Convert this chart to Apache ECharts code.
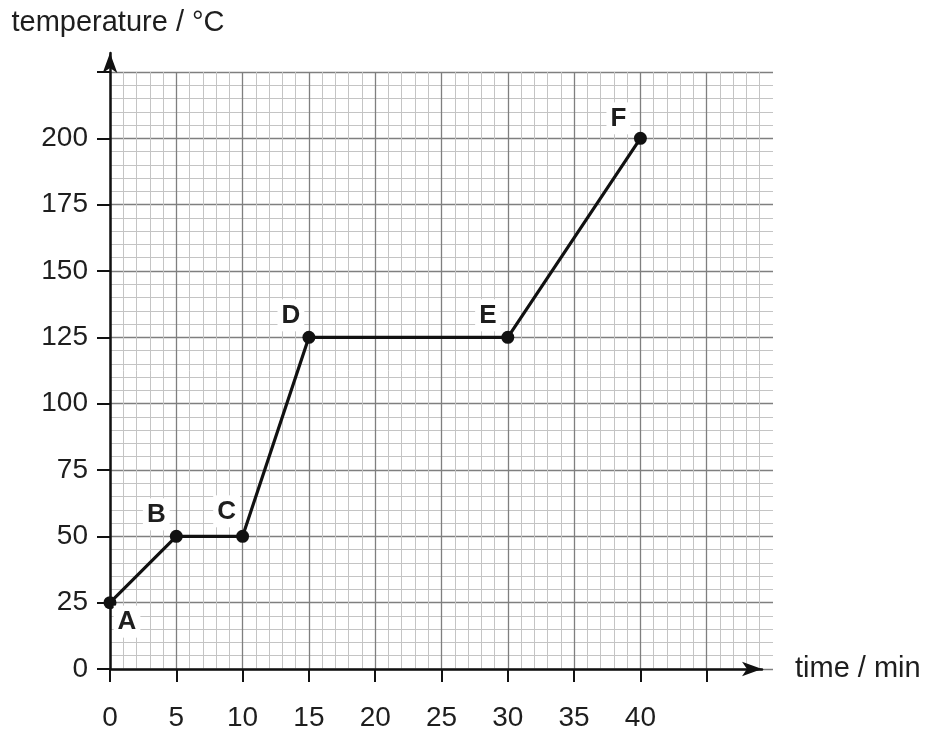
<!DOCTYPE html>
<html>
<head>
<meta charset="utf-8">
<script src="https://cdn.jsdelivr.net/npm/echarts@6.0.0/dist/echarts.min.js"></script>
<style>
  html, body { margin: 0; padding: 0; background: #fff; }
  #chart { width: 930px; height: 734px; }
</style>
</head>
<body>
<div id="chart"></div>
<script>
// heating curve: points A..F
const POINT_NAMES = ["A", "B", "C", "D", "E", "F"];
const TIME_MIN = [0, 5, 10, 15, 30, 40];
const TEMP_C = [25, 50, 50, 125, 125, 200];
const X_TICKS = [0, 5, 10, 15, 20, 25, 30, 35, 40, 45];
const X_LABELS = [0, 5, 10, 15, 20, 25, 30, 35, 40];
const Y_TICKS = [0, 25, 50, 75, 100, 125, 150, 175, 200, 225];
const Y_LABELS = [0, 25, 50, 75, 100, 125, 150, 175, 200];

// letter placement around each point (px)
const LABEL_OFFSETS = [[17, 19], [-20, -22], [-16, -25], [-18, -22], [-20, -22], [-22, -20]];

const FONT = "'Liberation Sans', Arial, sans-serif";
const INK = "#111";

const chart = echarts.init(document.getElementById("chart"));

const paperAxis = {
    axisLine: { show: false },
    axisTick: { show: true, length: 13, lineStyle: { color: INK, width: 2 } },
    minorTick: { show: false, splitNumber: 5 },
    splitLine: { show: true, lineStyle: { color: "#7f7f7f", width: 1.3 } },
    minorSplitLine: { show: true, lineStyle: { color: "#c4c4c4", width: 1 } },
};

const arrowAxis = {
    type: "value",
    min: 0, max: 1,
    axisLine: { show: true, symbol: ["none", "arrow"], symbolSize: [11, 20], lineStyle: { color: INK, width: 2.5 } },
    axisTick: { show: false },
    axisLabel: { show: false },
    splitLine: { show: false },
};

chart.setOption({
    animation: false,
    backgroundColor: "#fff",
    grid: [
        { left: 110, top: 72, width: 663, height: 597 },
        { left: 110, top: 53, right: 168, bottom: 65 },
    ],
    xAxis: [
        {
            ...paperAxis,
            gridIndex: 0,
            type: "value",
            min: 0, max: 50, interval: 5,
            axisTick: { ...paperAxis.axisTick, customValues: X_TICKS },
            axisLabel: {
                customValues: X_LABELS,
                margin: 35, fontSize: 28, color: "#1e1e1e", fontFamily: FONT,
            },
            name: "time / min",
            nameLocation: "end",
            nameGap: 22,
            nameTextStyle: { fontSize: 29, color: "#1e1e1e", fontFamily: FONT, align: "left", verticalAlign: "middle" },
        },
        { ...arrowAxis, gridIndex: 1 },
    ],
    yAxis: [
        {
            ...paperAxis,
            gridIndex: 0,
            type: "value",
            min: 0, max: 225, interval: 25,
            axisTick: { ...paperAxis.axisTick, customValues: Y_TICKS },
            axisLabel: {
                customValues: Y_LABELS,
                margin: 22, fontSize: 28, color: "#1e1e1e", fontFamily: FONT,
            },
            name: "temperature / °C",
            nameLocation: "end",
            nameGap: 35,
            nameTextStyle: { fontSize: 29, color: "#1e1e1e", fontFamily: FONT, align: "center", padding: [0, 0, 0, 16] },
        },
        { ...arrowAxis, gridIndex: 1 },
    ],
    series: [{
        type: "line",
        xAxisIndex: 0,
        yAxisIndex: 0,
        symbol: "circle",
        symbolSize: 13,
        lineStyle: { color: INK, width: 3.2 },
        itemStyle: { color: INK },
        z: 5,
        data: TIME_MIN.map((t, i) => ({
            name: POINT_NAMES[i],
            value: [t, TEMP_C[i]],
            label: {
                show: true,
                formatter: "{b}",
                position: "inside",
                offset: LABEL_OFFSETS[i],
                fontSize: 26,
                fontWeight: "bold",
                fontFamily: FONT,
                color: "#1e1e1e",
                backgroundColor: "#fff",
                padding: [3, 4],
            },
        })),
    }],
});
</script>
</body>
</html>
